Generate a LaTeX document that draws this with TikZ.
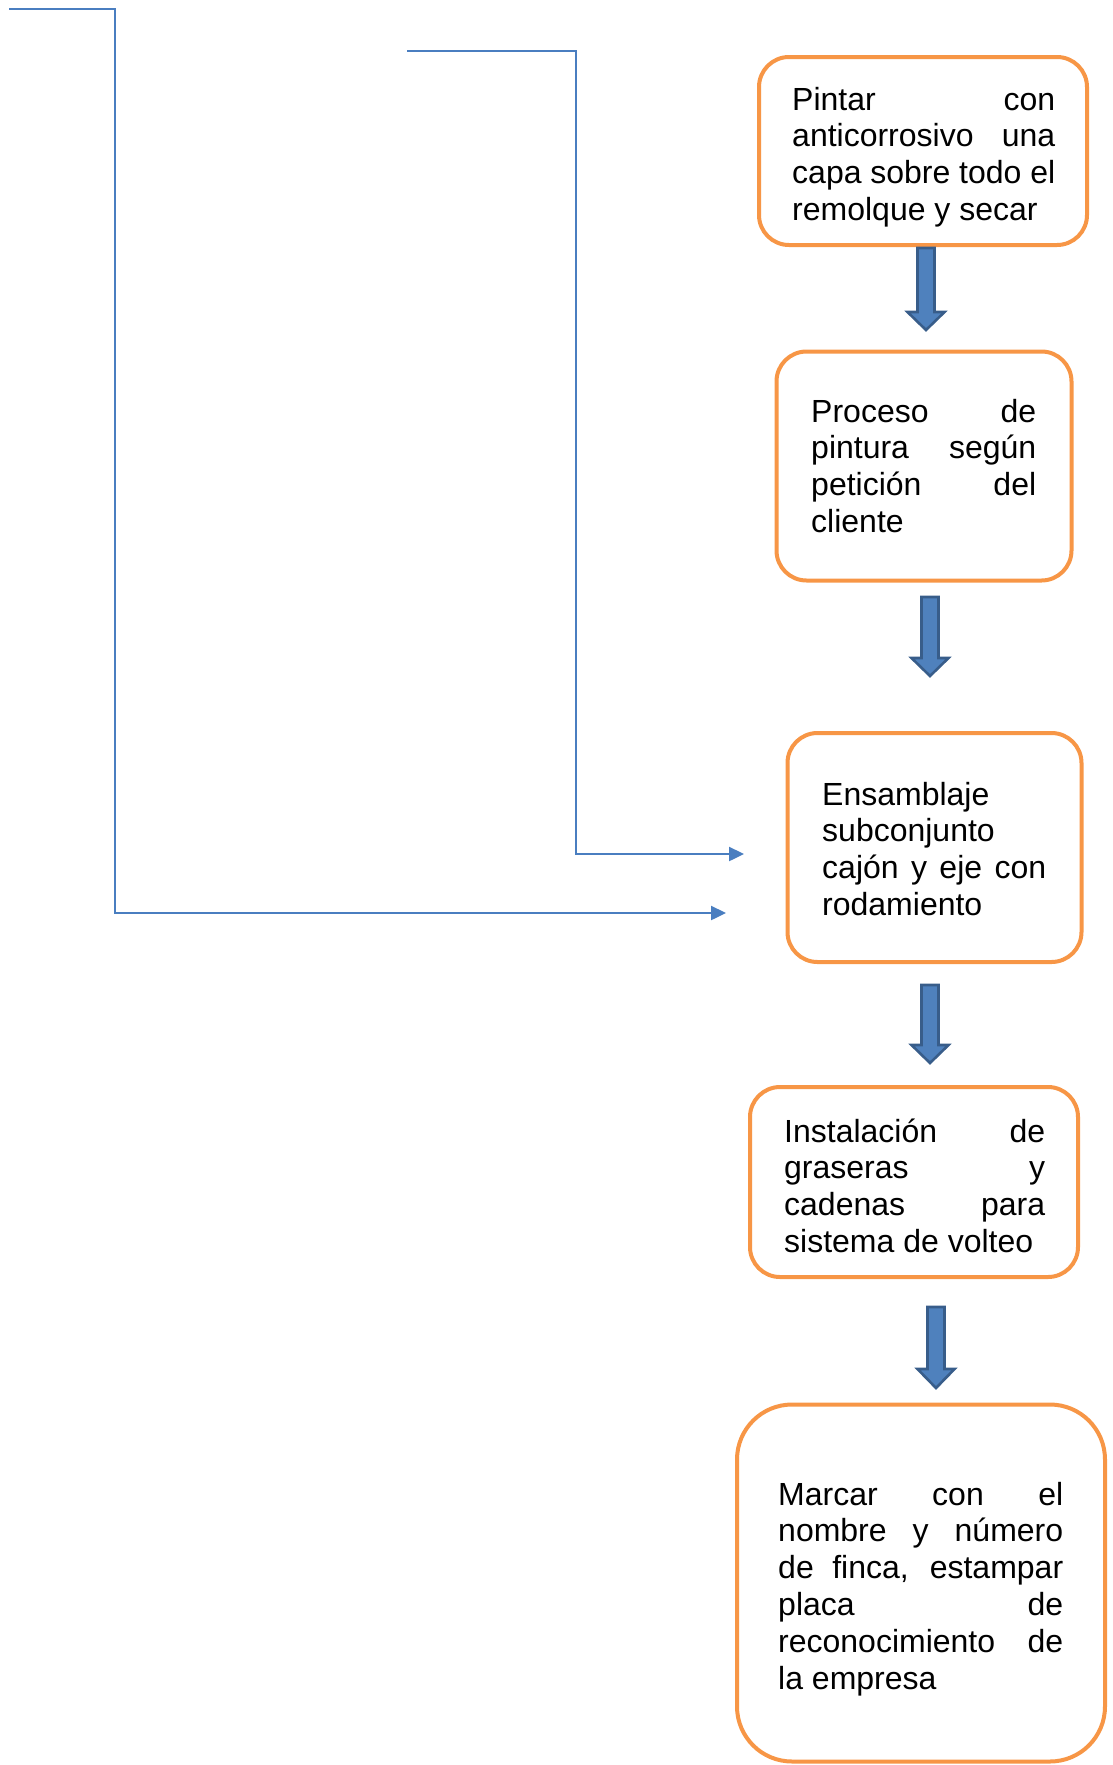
\documentclass[tikz,border=0pt]{standalone}
\usepackage{fontspec}
\setmainfont{Liberation Sans}
\usetikzlibrary{arrows.meta}
\definecolor{boxorange}{RGB}{247,150,70}
\definecolor{linkblue}{RGB}{74,126,192}
\definecolor{arrfill}{RGB}{79,129,189}
\definecolor{arrdraw}{RGB}{56,93,138}
\newcommand\jl[1]{\noindent\hbox to\hsize{#1}\par}
\newcommand\blockarr[4]{% cx, ytop, ybase, ytip
  \draw[blockarrow] (#1-8.5,#2) -- (#1+8.5,#2) -- (#1+8.5,#3) -- (#1+18.5,#3)
    -- (#1,#4) -- (#1-18.5,#3) -- (#1-8.5,#3) -- cycle;}
\begin{document}
\begin{tikzpicture}[x=1pt,y=-1pt,
  obox/.style={draw=boxorange, line width=4pt, rounded corners=30pt, fill=white, inner sep=0pt},
  txt/.style={inner sep=0pt, anchor=base west, align=justify,
    font=\fontsize{32}{36.8}\selectfont},
  conn/.style={draw=linkblue, line width=2.4pt, -{Triangle[length=15pt,width=14pt]}},
  blockarrow/.style={fill=arrfill, draw=arrdraw, line width=2.6pt, line join=miter}]
\useasboundingbox (0,0) rectangle (1113,1765);

% boxes
\node[obox, minimum width=328pt, minimum height=188pt] (b1) at (923,151) {};
\node[obox, minimum width=295pt, minimum height=229pt] (b2) at (924,466) {};
\node[obox, minimum width=294pt, minimum height=229pt] (b3) at (934.5,847.5) {};
\node[obox, minimum width=328pt, minimum height=190pt] (b4) at (914,1182) {};
\node[obox, rounded corners=55pt, minimum width=368pt, minimum height=357pt] (b5) at (921,1583) {};

% texts
\node[txt, text width=263pt] (t1) at (792,110)
  {\jl{Pintar con}\jl{anticorrosivo una}\jl{capa sobre todo el}\noindent remolque y secar};
\node[txt, text width=225pt] (t2) at (811,422)
  {\jl{Proceso de}\jl{pintura según}\jl{petición del}\noindent cliente};
\node[txt, text width=224pt] (t3) at (822,805)
  {\noindent Ensamblaje\par\noindent subconjunto\par\jl{cajón y eje con}\noindent rodamiento};
\node[txt, text width=261pt] (t4) at (784,1142)
  {\jl{Instalación de}\jl{graseras y}\jl{cadenas para}\noindent sistema de volteo};
\node[txt, text width=285pt] (t5) at (778,1505)
  {\jl{Marcar con el}\jl{nombre y número}\jl{de finca, estampar}\jl{placa de}\jl{reconocimiento de}\noindent la empresa};

% block arrows
\blockarr{926}{248}{312}{330}
\blockarr{930}{597}{658}{676}
\blockarr{930}{985}{1045}{1063}
\blockarr{936}{1307}{1369}{1388}

% thin connectors
\coordinate (s1) at (9,9);
\coordinate (c1) at (115,9);
\coordinate (e1) at (726,913);
\coordinate (s2) at (407,51);
\coordinate (c2) at (576,51);
\coordinate (e2) at (744,854);
\draw[conn] (s1) -- (c1) |- (e1);
\draw[conn] (s2) -- (c2) |- (e2);
\end{tikzpicture}
\end{document}
